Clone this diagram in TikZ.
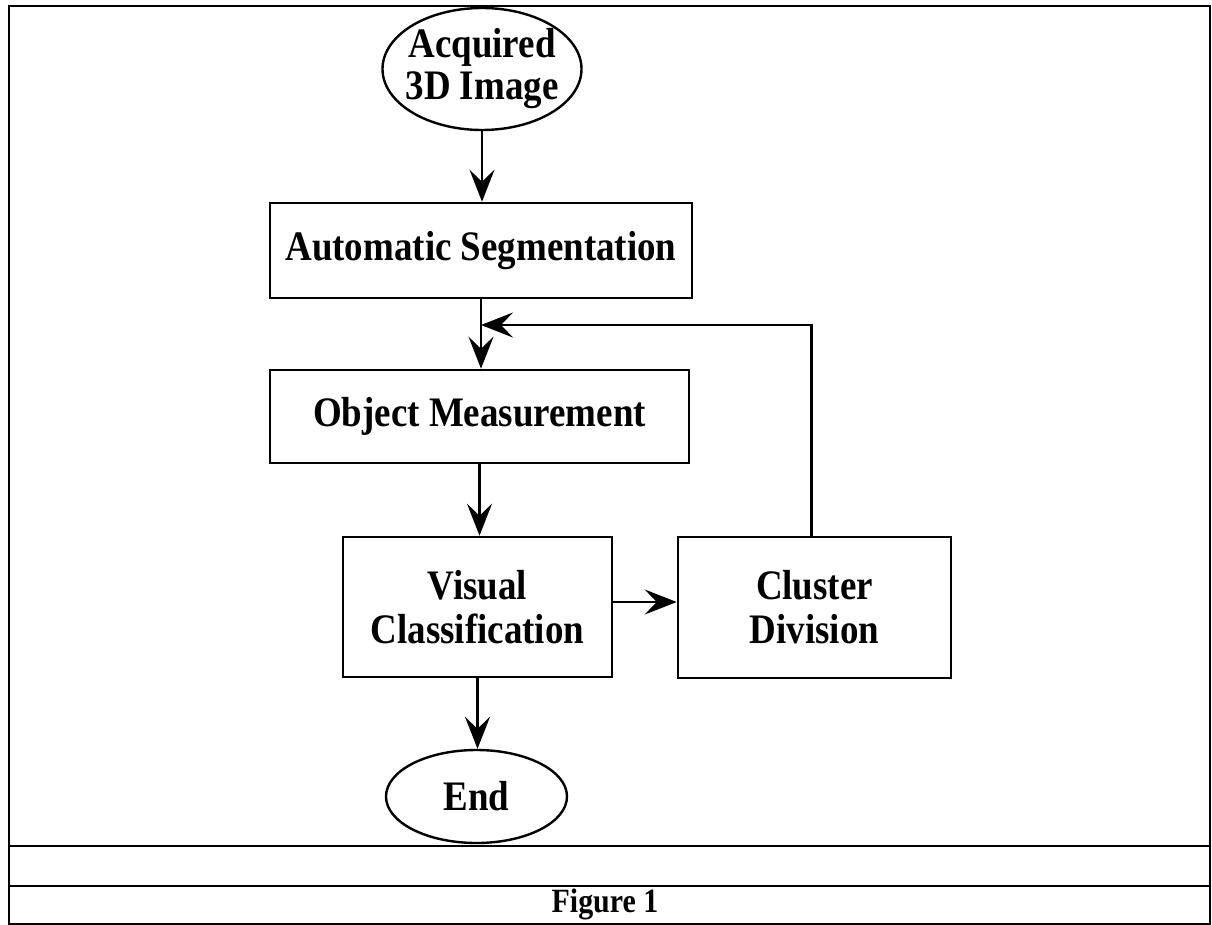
\documentclass[tikz,border=0pt]{standalone}
\usepackage{fontspec}
\setmainfont{Liberation Serif}[FakeStretch=0.88]
\usetikzlibrary{shapes.geometric,arrows.meta,calc}
\begin{document}
\begin{tikzpicture}[x=1pt,y=-1pt,
  every node/.style={font=\fontsize{42}{44}\selectfont\bfseries, align=center, inner sep=0pt},
  procbox/.style={draw, line width=2.6pt, rectangle},
  termnode/.style={draw, line width=2.4pt, ellipse},
  flow/.style={line width=2.4pt, -{Stealth[length=32pt,width=25pt,inset=12pt]}},
  frameline/.style={line width=2pt}]
\useasboundingbox (0,0) rectangle (1212,925);
% frame
\draw[frameline] (9,6) rectangle (1210,924);
\draw[frameline] (9,846) -- (1210,846);
\draw[frameline] (9,886) -- (1210,886);
\node[font=\fontsize{34}{36}\selectfont\bfseries] (cap) at (605,904) {Figure 1};
% nodes
\node[termnode, minimum width=199pt, minimum height=122pt,
      label={[font=\fontsize{42}{42}\selectfont\bfseries, align=center]center:Acquired\\3D Image}] (acq) at (482,69) {};
\node[procbox, minimum width=422pt, minimum height=95pt] (auto) at (481,250.5) {Automatic Segmentation};
\node[procbox, minimum width=419pt, minimum height=93pt] (obj) at (479.5,416.5) {Object Measurement};
\node[procbox, minimum width=269pt, minimum height=140pt] (vis) at (477.5,607) {Visual\\Classification};
\node[procbox, minimum width=273pt, minimum height=141pt] (clu) at (814.5,607.5) {Cluster\\Division};
\node[termnode, minimum width=181pt, minimum height=93pt] (end) at (476.5,796.5) {End};
\coordinate (fb) at (481,325);
% connectors
\draw[flow] (acq.south) -- (acq.south |- auto.north);
\draw[flow] (auto.south) -- (auto.south |- obj.north);
\draw[flow] ([xshift=-3pt]clu.north) |- (fb);
\draw[flow] (obj.south) -- (obj.south |- vis.north);
\draw[flow] ([yshift=5pt]vis.east) -- ([yshift=5pt]vis.east -| clu.west);
\draw[flow] (vis.south) -- (vis.south |- end.north);
\end{tikzpicture}
\end{document}
